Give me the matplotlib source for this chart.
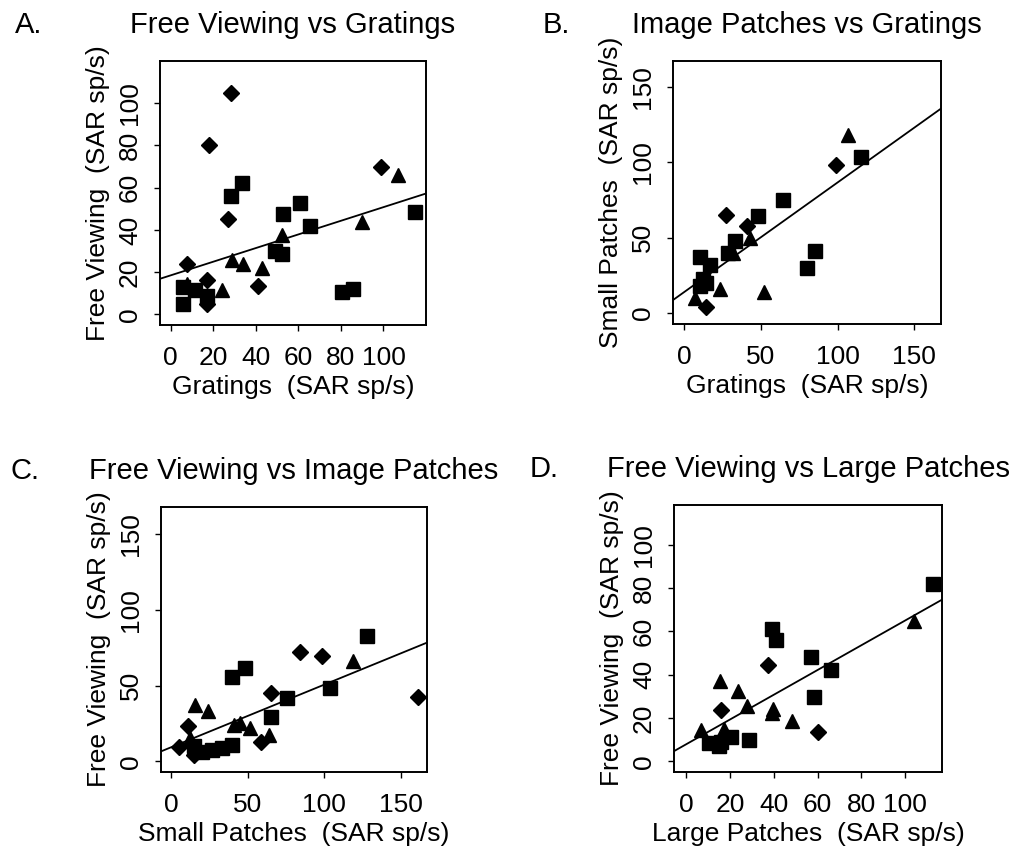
import numpy as np
import matplotlib
matplotlib.use("Agg")
import matplotlib.pyplot as plt

plt.rcParams['font.family'] = ['Liberation Sans', 'DejaVu Sans']

# panel A: free viewing vs gratings
a_dia_x = [28.5, 18, 27, 7.5, 17, 41, 17, 99]
a_dia_y = [105, 80, 45, 24, 16.5, 13.5, 5, 70]
a_tri_x = [107, 90, 52.5, 29, 34, 43, 24, 7.5]
a_tri_y = [66, 44, 37.5, 26, 24, 22, 11.5, 14.5]
a_sq_x = [33.5, 28.5, 61, 53, 65.5, 115, 49, 52.5, 80.5, 85.5, 6, 6, 11.5, 17]
a_sq_y = [62, 56, 53, 47.5, 42, 48.5, 30, 28.5, 10.5, 12, 13, 5, 11.5, 8.5]
a_fit = [18.5, 0.323]  # intercept, slope

# panel B: small patches vs gratings
b_dia_x = [99, 27, 40.5, 14]
b_dia_y = [98, 65, 58, 4]
b_tri_x = [106.5, 42.5, 31.5, 23, 52, 7]
b_tri_y = [118, 50, 40, 16, 14, 10]
b_sq_x = [115, 64.5, 48, 33, 28.5, 10, 16.5, 85.5, 80, 12, 10, 14]
b_sq_y = [103.5, 75, 64.5, 48, 39.5, 37, 31.5, 41, 30, 22.5, 17.5, 20]
b_fit = [13.9, 0.728]

# panel C: free viewing vs small patches
c_dia_x = [84, 98.5, 161, 65.5, 11, 5, 59, 15]
c_dia_y = [72, 69.5, 42.5, 45, 23.5, 9.5, 13, 4.5]
c_tri_x = [119, 16, 24, 41, 45, 51.5, 64, 12.5]
c_tri_y = [66, 37.5, 33, 24, 25.5, 22, 17.5, 15.5]
c_sq_x = [128, 48, 39.5, 104, 76, 65, 20, 27, 33, 40, 15]
c_sq_y = [83, 61.5, 56, 48.5, 42, 29.5, 6.5, 7.5, 9, 11, 10]
c_fit = [9.3, 0.414]

# panel D: free viewing vs large patches
d_dia_x = [37.5, 16, 60]
d_dia_y = [44.5, 23.5, 13.5]
d_tri_x = [104, 15.5, 23.5, 27.5, 39.5, 39, 48.5, 6.5, 17]
d_tri_y = [65, 37, 32.5, 25.5, 24, 22.5, 18.5, 14.5, 15]
d_sq_x = [113, 39, 41, 57, 66, 58.5, 28.5, 20.5, 16, 10.5, 15]
d_sq_y = [82, 61, 56, 48, 42, 29.5, 10, 11, 9, 8.5, 7]
d_fit = [7.9, 0.571]

titles = ["Free Viewing vs Gratings", "Image Patches vs Gratings",
          "Free Viewing vs Image Patches", "Free Viewing vs Large Patches"]
letters = ["A.", "B.", "C.", "D."]
xlabels = ["Gratings  (SAR sp/s)", "Gratings  (SAR sp/s)",
           "Small Patches  (SAR sp/s)", "Large Patches  (SAR sp/s)"]
ylabels = ["Free Viewing  (SAR sp/s)", "Small Patches  (SAR sp/s)",
           "Free Viewing  (SAR sp/s)", "Free Viewing  (SAR sp/s)"]
ticks_20 = [0, 20, 40, 60, 80, 100]
ticks_50 = [0, 50, 100, 150]

W, H = 1013, 857
fig = plt.figure(figsize=(W / 100, H / 100), dpi=100)

# pixel boxes (left, top, right, bottom)
boxes = [(160, 61, 426, 325), (673, 61, 941, 324),
         (161, 507, 427, 772), (674, 505, 942, 772)]
lims = [((-5, 120), (-5, 120)), ((-7.5, 167.5), (-7.5, 167.5)),
        ((-6.5, 167), (-7, 168)), ((-5.7, 117), (-5, 118.5))]
ticks = [ticks_20, ticks_50, ticks_50, ticks_20]
letter_x = [15, 543, 10, 530]

panels = [
    (a_dia_x, a_dia_y, a_tri_x, a_tri_y, a_sq_x, a_sq_y, a_fit),
    (b_dia_x, b_dia_y, b_tri_x, b_tri_y, b_sq_x, b_sq_y, b_fit),
    (c_dia_x, c_dia_y, c_tri_x, c_tri_y, c_sq_x, c_sq_y, c_fit),
    (d_dia_x, d_dia_y, d_tri_x, d_tri_y, d_sq_x, d_sq_y, d_fit),
]

for i, p in enumerate(panels):
    l, t, r, b = boxes[i]
    ax = fig.add_axes([l / W, 1 - b / H, (r - l) / W, (b - t) / H])
    dx, dy, tx, ty, sx, sy, fit = p
    ax.plot(sx, sy, 's', color='black', ms=10.3, ls='none')
    ax.plot(tx, ty, '^', color='black', ms=9.6, ls='none')
    ax.plot(dx, dy, 'D', color='black', ms=8, ls='none')
    xl, yl = lims[i]
    xs = np.array(xl)
    ax.plot(xs, fit[0] + fit[1] * xs, color='black', lw=1.3)
    ax.set_xlim(xl)
    ax.set_ylim(yl)
    ax.set_xticks(ticks[i])
    ax.set_yticks(ticks[i])
    ax.tick_params(direction='out', length=4, width=1, labelsize=19, pad=11)
    ax.tick_params(axis='y', labelrotation=90, pad=9)
    for lab in ax.get_yticklabels():
        lab.set_va('center')
    for s in ax.spines.values():
        s.set_linewidth(1.4)
    ax.set_xlabel(xlabels[i], fontsize=19, labelpad=4)
    ax.set_ylabel(ylabels[i], fontsize=19, labelpad=6)
    ax.set_title(titles[i], fontsize=21, pad=20)
    fig.text(letter_x[i] / W, 1 - (t - 28) / H, letters[i], fontsize=21,
             va='baseline', ha='left')

fig.savefig("out.png", dpi=100)
